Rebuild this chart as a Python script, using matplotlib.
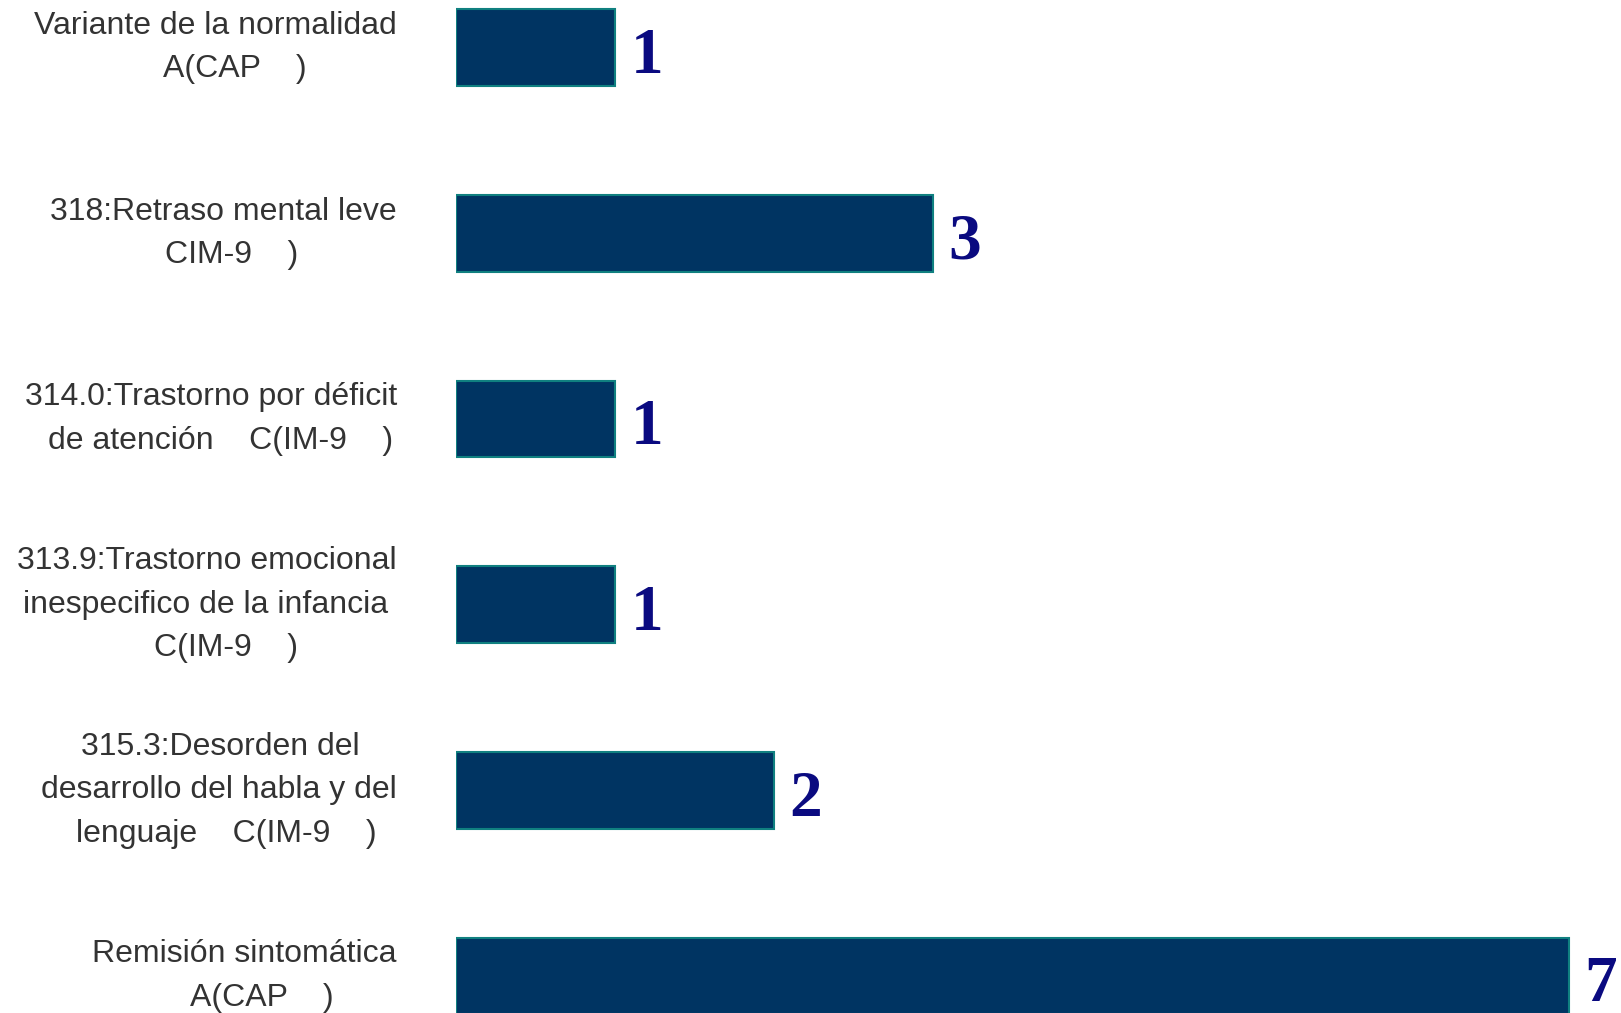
import matplotlib.pyplot as plt
from matplotlib.transforms import blended_transform_factory

# Data
categories = [
    ["Variante de la normalidad", "A(CAP    )"],
    ["318:Retraso mental leve", "CIM-9    )"],
    ["314.0:Trastorno por déficit", "de atención    C(IM-9    )"],
    ["313.9:Trastorno emocional", "inespecifico de la infancia", "C(IM-9    )"],
    ["315.3:Desorden del", "desarrollo del habla y del", "lenguaje    C(IM-9    )"],
    ["Remisión sintomática", "A(CAP    )"],
]
values = [1, 3, 1, 1, 2, 7]

# right edge (figure px) of each label line
line_right = [
    [397, 307],
    [397, 298],
    [397, 393],
    [397, 388, 298],
    [360, 397, 377],
    [397, 334],
]

W, H = 1621, 1013
fig = plt.figure(figsize=(W / 100, H / 100), dpi=100)
x0 = 456
ax = fig.add_axes([x0 / W, 0, 1 - x0 / W, 1])

unit = 159.0
step = 185.7
ax.set_xlim(0, (W - x0) / unit)
ax.set_ylim(5 + (H - 976) / step, -47.6 / step)

ypos = list(range(len(values)))
ax.barh(ypos, values, height=0.412, color='#003462', edgecolor='#108080', linewidth=1.5)

for y, v in zip(ypos, values):
    ax.annotate(str(v), xy=(v, y), xytext=(11, -18.3), textcoords='offset points',
                ha='left', va='baseline', fontsize=47, fontweight='bold',
                family='Liberation Serif', color='#0a0a80')

trans = blended_transform_factory(fig.transFigure, ax.transData)
line_gap = 43.5 * 0.72  # points
for y, lines, rights in zip(ypos, categories, line_right):
    n = len(lines)
    for i, (txt, r) in enumerate(zip(lines, rights)):
        dy = ((n - 1) / 2 - i) * line_gap
        ax.annotate(txt, xy=(r / W, y), xycoords=trans, xytext=(0, dy),
                    textcoords='offset points', ha='right', va='center',
                    fontsize=23, family='Liberation Sans', color='#333333',
                    annotation_clip=False)

ax.axis('off')
fig.savefig('out.png', dpi=100)
